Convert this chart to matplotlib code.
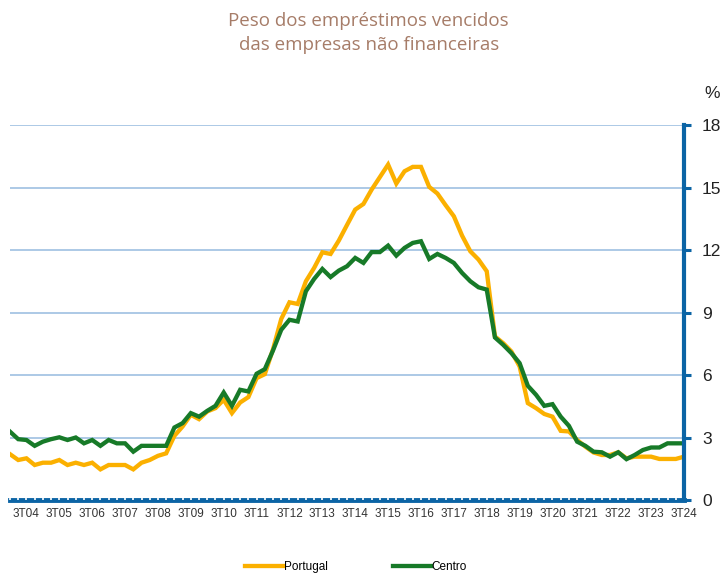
import matplotlib
matplotlib.use("Agg")
import matplotlib.pyplot as plt
from matplotlib.ticker import FixedLocator, MultipleLocator

# quarterly series, 1T04 .. 3T24 (%)
portugal = [
    2.20, 1.92, 2.00, 1.68, 1.79, 1.79, 1.92, 1.68, 1.79, 1.68,
    1.79, 1.47, 1.68, 1.68, 1.68, 1.47, 1.79, 1.92, 2.12, 2.24,
    3.08, 3.53, 4.09, 3.88, 4.25, 4.41, 4.81, 4.17, 4.68, 4.94,
    5.85, 6.04, 7.24, 8.69, 9.49, 9.41, 10.50, 11.14, 11.89, 11.81,
    12.45, 13.20, 13.94, 14.21, 14.90, 15.50, 16.10, 15.19, 15.78, 15.99,
    15.99, 15.03, 14.71, 14.15, 13.62, 12.69, 11.94, 11.54, 10.98, 7.85,
    7.53, 7.13, 6.41, 4.65, 4.41, 4.13, 4.00, 3.32, 3.29, 2.88,
    2.56, 2.28, 2.16, 2.16, 2.29, 2.00, 2.08, 2.08, 2.08, 1.97,
    1.97, 1.97, 2.08,
]
centro = [
    3.28, 2.92, 2.88, 2.60, 2.80, 2.92, 3.01, 2.88, 3.00, 2.72,
    2.88, 2.60, 2.88, 2.72, 2.72, 2.32, 2.60, 2.60, 2.60, 2.60,
    3.48, 3.69, 4.17, 4.00, 4.28, 4.52, 5.16, 4.52, 5.29, 5.21,
    6.06, 6.28, 7.18, 8.17, 8.65, 8.57, 10.02, 10.61, 11.09, 10.70,
    11.01, 11.22, 11.62, 11.38, 11.90, 11.90, 12.21, 11.73, 12.10, 12.34,
    12.42, 11.57, 11.81, 11.62, 11.38, 10.90, 10.50, 10.21, 10.10, 7.80,
    7.45, 7.05, 6.57, 5.48, 5.05, 4.52, 4.60, 4.00, 3.56, 2.80,
    2.60, 2.32, 2.29, 2.08, 2.29, 1.96, 2.16, 2.40, 2.52, 2.52,
    2.72, 2.72, 2.72,
]
quarters = [f"{q}T{y:02d}" for y in range(4, 25) for q in range(1, 5)][:len(portugal)]
label_quarters = [q for q in quarters if q.startswith("3T")]
yticks = [0, 3, 6, 9, 12, 15, 18]

title = "Peso dos empréstimos vencidos\ndas empresas não financeiras"

ORANGE = "#FBB000"
GREEN = "#177A28"
BLUE = "#0B64A5"
GRID = "#A6C5E4"

plt.rcParams["font.family"] = ["Liberation Sans", "DejaVu Sans"]

fig = plt.figure(figsize=(7.23, 5.77), dpi=100)
ax = fig.add_axes([10 / 723, 77 / 577, 674 / 723, 375 / 577])

x = list(range(len(quarters)))
ax.plot(x, portugal, color=ORANGE, lw=3.1, label="Portugal", solid_joinstyle="miter")
ax.plot(x, centro, color=GREEN, lw=3.1, label="Centro", solid_joinstyle="miter")

ax.set_xlim(0, len(quarters) - 1)
ax.set_ylim(0, 18)

# y axis on the right
ax.yaxis.tick_right()
ax.set_yticks(yticks)
ax.tick_params(axis="y", direction="out", length=5, width=2.2, color=BLUE,
               labelsize=12.5, labelcolor="#222222", pad=8)
for y in yticks[1:]:
    ax.axhline(y, color=GRID, lw=1.3, zorder=0)

# x axis: quarter ticks, labels every third quarter
ax.xaxis.set_major_locator(FixedLocator([quarters.index(q) for q in label_quarters]))
ax.set_xticklabels(label_quarters)
ax.xaxis.set_minor_locator(MultipleLocator(1))
ax.tick_params(axis="x", which="major", direction="in", length=2.5, width=1.2,
               color="white", labelsize=8.5, labelcolor="#333333", pad=6)
ax.tick_params(axis="x", which="minor", direction="in", length=2.5, width=1.2, color="white")

for side in ["top", "left"]:
    ax.spines[side].set_visible(False)
ax.spines["right"].set_color(BLUE)
ax.spines["right"].set_linewidth(3)
ax.spines["bottom"].set_color(BLUE)
ax.spines["bottom"].set_linewidth(3.5)
ax.spines["bottom"].set_zorder(1)

fig.text(0.510, 1 - 33 / 577, title, ha="center", va="center", fontsize=13.5,
         color="#A67C68", family=["Open Sans", "DejaVu Sans"], linespacing=1.4)
fig.text(712 / 723, 1 - 93 / 577, "%", ha="center", va="center", fontsize=12.5, color="#222222")

fig.legend(loc="center", bbox_to_anchor=(0.4925, 1 - 567 / 577), ncol=2, frameon=False,
           fontsize=8.5, handlelength=3.2, handletextpad=0.1, columnspacing=5.5)

fig.savefig("out.png", dpi=100)
